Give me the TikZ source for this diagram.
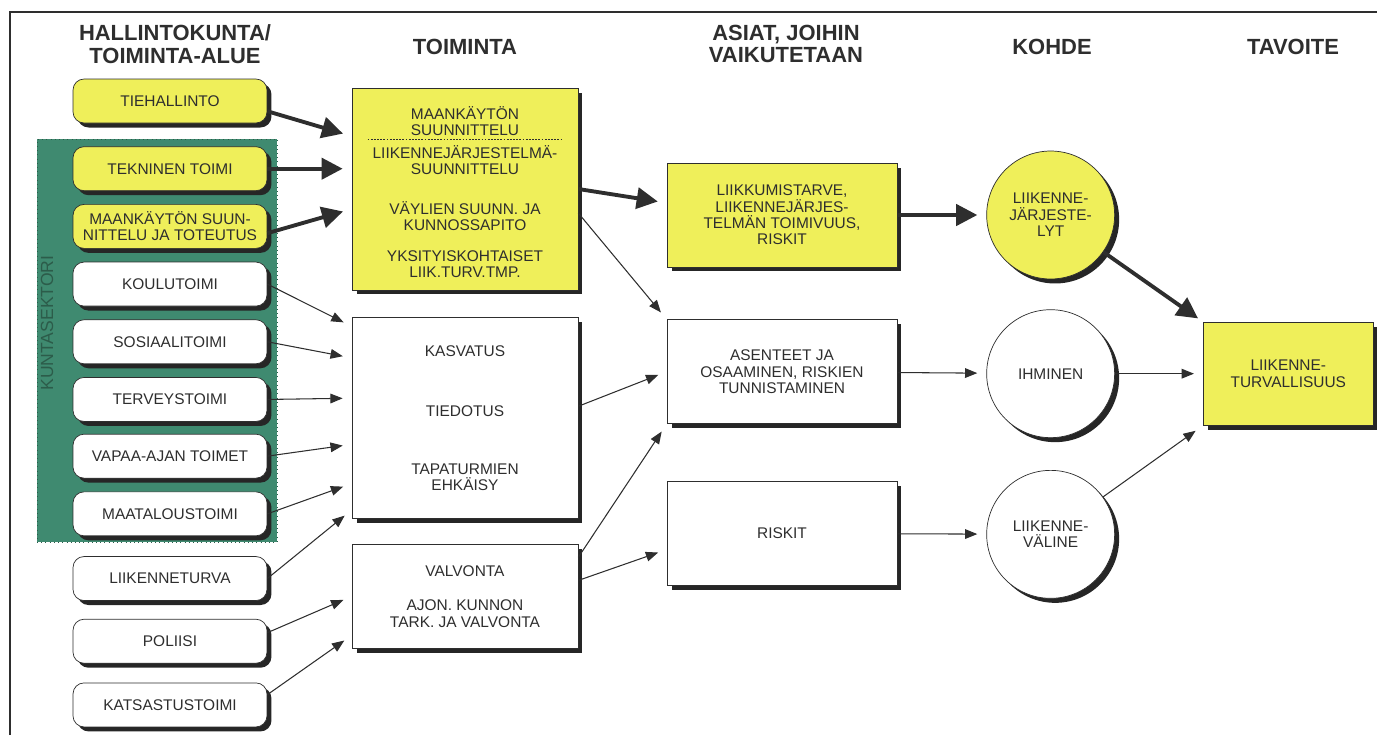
\documentclass[tikz,border=0pt]{standalone}
\usepackage{fontspec}
\setmainfont{Liberation Sans}
\usepackage{tikz}
\usetikzlibrary{arrows.meta,positioning,shadows,calc}
\definecolor{SignYellow}{HTML}{EFEF5A}
\definecolor{SectorGreen}{HTML}{3F8A70}
\definecolor{SectorText}{HTML}{2C5C4A}
\definecolor{InkGray}{HTML}{2E2E2E}

\begin{document}
\begin{tikzpicture}[
  x=0.02cm, y=-0.02cm,
  node distance=0.26cm,
  hdr/.style={font=\fontsize{12.5}{13}\selectfont\bfseries, text=InkGray, align=center},
  boxshadow/.style={drop shadow={shadow xshift=0.09cm, shadow yshift=-0.09cm, opacity=1, fill=black!85}},
  unitbox/.style={draw=InkGray, thin, rounded corners=0.22cm, fill=white, minimum width=3.88cm, minimum height=0.88cm, align=center, text=InkGray, font=\fontsize{8.8}{9.3}\selectfont, boxshadow},
  actbox/.style={draw=InkGray, thin, fill=white, minimum width=4.52cm, align=center, text=InkGray, font=\fontsize{8.8}{9.3}\selectfont, boxshadow},
  issuebox/.style={actbox, minimum width=4.6cm, minimum height=2.08cm},
  targetnode/.style={circle, draw=InkGray, thin, fill=white, minimum size=2.56cm, inner sep=0pt, align=center, text=InkGray, font=\fontsize{8.8}{9.3}\selectfont, boxshadow},
  flow/.style={-{Triangle[length=7pt,width=5.5pt]}, line width=0.6pt, InkGray, shorten >=0.18cm},
  mainflow/.style={-{Triangle[length=12pt,width=12pt]}, line width=2.2pt, InkGray, shorten >=0.18cm}
]
\useasboundingbox (0,0) rectangle (1377,735);
\draw[InkGray, line width=0.8pt] (10,735) -- (10,12) -- (1377,12);

% column headings
\node[hdr] (hdrunit) at (175,44) {HALLINTOKUNTA/\\TOIMINTA-ALUE};
\node[hdr] (hdract) at (465,47) {TOIMINTA};
\node[hdr] (hdrissue) at (786,44) {ASIAT, JOIHIN\\VAIKUTETAAN};
\node[hdr] (hdrtarget) at (1052,47) {KOHDE};
\node[hdr] (hdrgoal) at (1293,47) {TAVOITE};

% municipal sector
\node[draw=SectorText, dotted, fill=SectorGreen, minimum width=4.8cm, minimum height=8.06cm, inner sep=0pt] (sektori) at (157,340.5) {};
\node[rotate=90, text=SectorText, font=\fontsize{10}{12}\selectfont] (sektorinimi) at (47,323) {KUNTASEKTORI};

% administrations
\node[unitbox, fill=SignYellow] (tieh) at (170,101) {TIEHALLINTO};
\node[unitbox, fill=SignYellow, below=0.46cm of tieh] (tekn) {TEKNINEN TOIMI};
\node[unitbox, fill=SignYellow, below=of tekn] (maank) {MAANKÄYTÖN SUUN-\\NITTELU JA TOTEUTUS};
\node[unitbox, below=of maank] (koulu) {KOULUTOIMI};
\node[unitbox, below=of koulu] (sosi) {SOSIAALITOIMI};
\node[unitbox, below=of sosi] (terv) {TERVEYSTOIMI};
\node[unitbox, below=0.24cm of terv] (vapaa) {VAPAA-AJAN TOIMET};
\node[unitbox, below=of vapaa] (maat) {MAATALOUSTOIMI};
\node[unitbox, below=0.4cm of maat] (liik) {LIIKENNETURVA};
\node[unitbox, below=0.36cm of liik] (pol) {POLIISI};
\node[unitbox, below=0.38cm of pol] (kats) {KATSASTUSTOIMI};

% activities
\node[actbox, fill=SignYellow, minimum height=4.04cm] (toim1) at (465,189) {\rule{0pt}{10.7pt}MAANKÄYTÖN\\SUUNNITTELU\\[3.5pt]LIIKENNEJÄRJESTELMÄ-\\SUUNNITTELU\\[13.4pt]VÄYLIEN SUUNN. JA\\KUNNOSSAPITO\\[8pt]YKSITYISKOHTAISET\\LIIK.TURV.TMP.};
\draw[InkGray, line width=0.6pt, dash pattern=on 1pt off 0.8pt] ($(toim1.north west)+(16,52)$) -- ($(toim1.north east)+(-15,52)$);
\node[actbox, minimum height=4.02cm, below=0.54cm of toim1] (toim2) {KASVATUS\\[24.7pt]TIEDOTUS\\[23.6pt]TAPATURMIEN\\EHKÄISY};
\node[actbox, minimum height=2.08cm, below=0.5cm of toim2] (toim3) {VALVONTA\\[10.5pt]AJON. KUNNON\\TARK. JA VALVONTA};

% issues
\node[issuebox, fill=SignYellow] (asiat1) at (782,215) {LIIKKUMISTARVE,\\LIIKENNEJÄRJES-\\TELMÄN TOIMIVUUS,\\RISKIT};
\node[issuebox, below=1.04cm of asiat1] (asiat2) {ASENTEET JA\\OSAAMINEN, RISKIEN\\TUNNISTAMINEN};
\node[issuebox, below=1.14cm of asiat2] (asiat3) {RISKIT};

% targets and goal
\node[targetnode, fill=SignYellow, right=1.78cm of asiat1] (kohde1) {LIIKENNE-\\JÄRJESTE-\\LYT};
\node[targetnode, below=0.6cm of kohde1] (kohde2) {IHMINEN};
\node[targetnode, below=0.64cm of kohde2] (kohde3) {LIIKENNE-\\VÄLINE};
\node[actbox, fill=SignYellow, minimum width=3.4cm, minimum height=2.06cm, right=1.76cm of kohde2] (tav) {LIIKENNE-\\TURVALLISUUS};

% main chain
\draw[mainflow] (tieh.-6) -- (toim1.155);
\draw[mainflow] (tekn.east) -- (tekn.east -| toim1.west);
\draw[mainflow] (maank.-4) -- (toim1.190);
\draw[mainflow] (toim1.east) -- (asiat1.174);
\draw[mainflow] (asiat1) -- (kohde1);
\draw[mainflow, shorten >=0.12cm] (kohde1) -- (tav.north west);

% other links
\draw[flow] (koulu.east) -- (toim2.141);
\draw[flow] (sosi.east) -- (toim2.152);
\draw[flow] (terv.east) -- (toim2.170);
\draw[flow] (vapaa.east) -- (toim2.193);
\draw[flow] (maat.east) -- (toim2.210);
\draw[flow] (liik.east) -- (toim2.219);
\draw[flow] (pol.5) -- (toim3.west);
\draw[flow] (kats.6) -- (toim3.199);
\draw[flow] (toim1.-12) -- (asiat2.north west);
\draw[flow] (toim2.6) -- (asiat2.west);
\draw[flow] (toim3.19) -- (asiat2.south west);
\draw[flow] (toim3.8) -- (asiat3.188);
\draw[flow] (asiat2) -- (kohde2);
\draw[flow] (asiat3) -- (kohde3);
\draw[flow] (kohde2) -- (tav);
\draw[flow] (kohde3) -- (tav.south west);
\end{tikzpicture}
\end{document}
